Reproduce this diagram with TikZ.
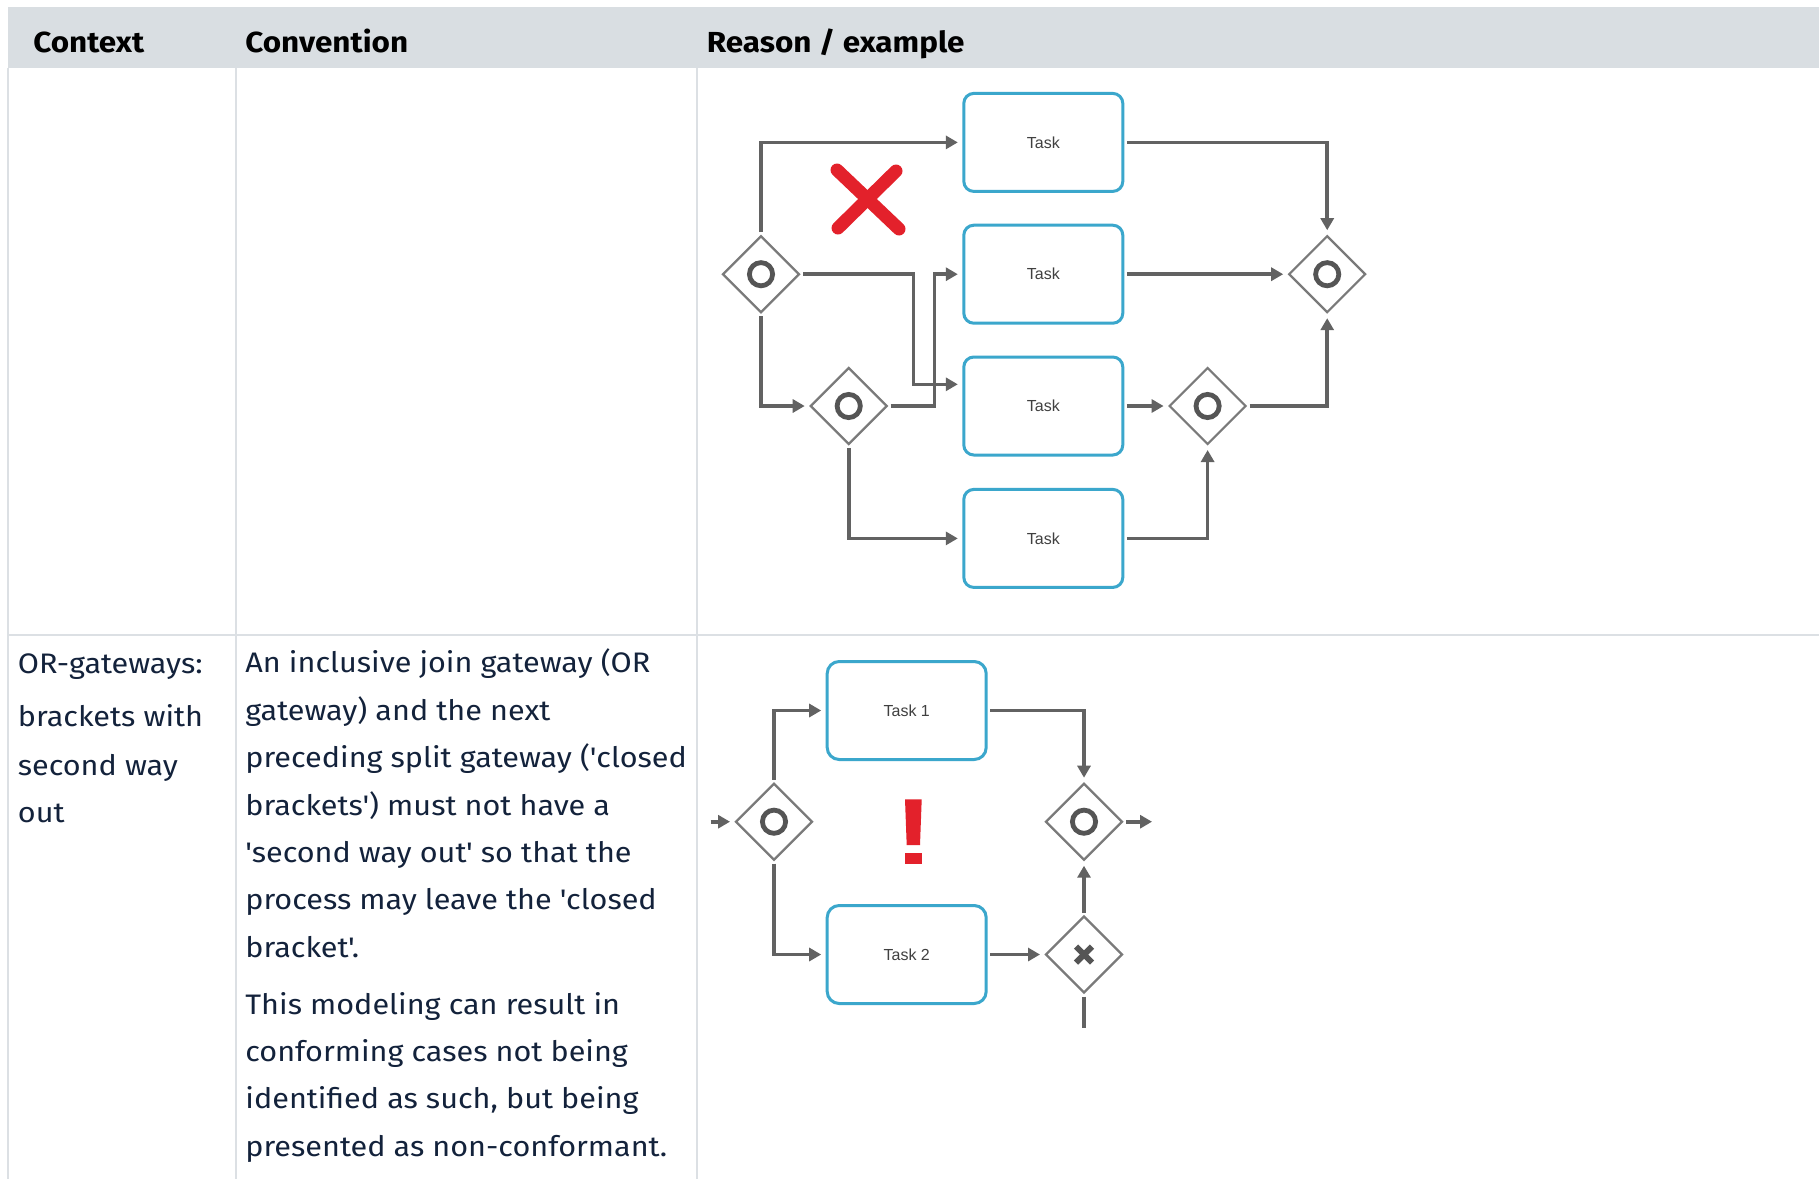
\documentclass[tikz,border=0pt]{standalone}
\usepackage{fontspec}
\setmainfont{Fira Sans}[FakeStretch=1.085, Ligatures=TeXOff]
\newfontfamily\taskfont{Liberation Sans}
\usetikzlibrary{arrows.meta,shapes.geometric,calc}

\definecolor{headfill}{HTML}{D9DEE2}
\definecolor{rulegray}{HTML}{DCE0E4}
\definecolor{bodytext}{HTML}{13223B}
\definecolor{flowgray}{HTML}{626262}
\definecolor{gategray}{HTML}{7A7A7A}
\definecolor{ringgray}{HTML}{555555}
\definecolor{taskblue}{HTML}{3BA7CC}
\definecolor{alertred}{HTML}{E3212B}

\tikzset{
  tablerule/.style={draw=rulegray, line width=0.8pt},
  headtext/.style={anchor=base west, inner sep=0pt, font=\fontsize{14.5}{17}\selectfont\bfseries, text=black},
  bodyline/.style={anchor=base west, inner sep=0pt, font=\fontsize{14.1}{17}\selectfont, text=bodytext},
  taskbox/.style={draw=taskblue, line width=1.5pt, rounded corners=5pt,
    minimum width=79.5pt, minimum height=49pt, inner sep=0pt, outer sep=0pt,
    font=\taskfont\fontsize{8}{9.5}\selectfont, text=black!75},
  gateway/.style={draw=gategray, line width=1.1pt, diamond, aspect=1,
    minimum width=38pt, minimum height=38pt, inner sep=0pt, outer sep=0pt},
  ring/.style={draw=ringgray, line width=2.4pt},
  xmark/.style={draw=ringgray, line width=3pt},
  flow/.style={draw=flowgray, line width=1.8pt, -{Triangle[length=6pt,width=6.5pt]},
    shorten <=2pt, shorten >=3pt},
  plainflow/.style={draw=flowgray, line width=1.8pt, shorten <=2pt},
  redmark/.style={draw=alertred, line width=6.5pt, line cap=round},
}

\begin{document}
\begin{tikzpicture}[x=0.5pt, y=-0.5pt]
  % page area
  \useasboundingbox (0,0) rectangle (1819,1179);
  \fill[white] (0,0) rectangle (1819,1179);

  % ---------- table frame ----------
  \fill[headfill] (8,7) rectangle (1819,68);
  \draw[tablerule] (8,68) -- (8,1179);
  \draw[tablerule] (236,68) -- (236,1179);
  \draw[tablerule] (697,68) -- (697,1179);
  \draw[tablerule] (8,635) -- (1819,635);

  % ---------- header ----------
  \node[headtext] (hcontext) at (33,52.7) {Context};
  \node[headtext] (hconvention) at (245,52.7) {Convention};
  \node[headtext] (hreason) at (706.5,52.7) {Reason / example};

  % ---------- context column ----------
  \node[bodyline] (c1) at (17.5,673) {OR-gateways:};
  \node[bodyline] (c2) at (17.5,726) {brackets with};
  \node[bodyline] (c3) at (17.5,775) {second way};
  \node[bodyline] (c4) at (17.5,822) {out};

  % ---------- convention column ----------
  \node[bodyline] (v1) at (245,672.8) {An inclusive join gateway (OR};
  \node[bodyline] (v2) at (245,720.2) {gateway) and the next};
  \node[bodyline] (v3) at (245,767.6) {preceding split gateway ('closed};
  \node[bodyline] (v4) at (245,815.0) {brackets') must not have a};
  \node[bodyline] (v5) at (245,862.4) {'second way out' so that the};
  \node[bodyline] (v6) at (245,909.8) {process may leave the 'closed};
  \node[bodyline] (v7) at (245,957.2) {bracket'.};
  \node[bodyline] (w1) at (245,1014.0) {This modeling can result in};
  \node[bodyline] (w2) at (245,1061.4) {conforming cases not being};
  \node[bodyline] (w3) at (245,1108.8) {identified as such, but being};
  \node[bodyline] (w4) at (245,1156.2) {presented as non-conformant.};

  % ---------- example 1: nested OR brackets ----------
  \node[taskbox] (t1) at (1043.3,142.4) {Task};
  \node[taskbox] (t2) at (1043.3,274.2) {Task};
  \node[taskbox] (t3) at (1043.3,406.0) {Task};
  \node[taskbox] (t4) at (1043.3,538.4) {Task};

  \node[gateway] (g1) at (761,274.2) {};
  \node[gateway] (g2) at (848.7,406.0) {};
  \node[gateway] (g3) at (1207.6,406.0) {};
  \node[gateway] (g4) at (1327.2,274.2) {};
  \foreach \g in {g1,g2,g3,g4} \draw[ring] (\g) circle[radius=5.8pt];

  \coordinate (b1) at (913.4,384.3);
  \coordinate (b2) at (934.4,274.2);

  \draw[flow] (g1.north) |- (t1.west);
  \draw[flow] (g1.east) -| (b1) -- (b1 -| t3.west);
  \draw[flow] (g1.south) |- (g2.west);
  \draw[flow] (g2.east) -| (b2) -- (t2.west);
  \draw[flow] (g2.south) |- (t4.west);
  \draw[flow] (t1.east) -| (g4.north);
  \draw[flow] (t2.east) -- (g4.west);
  \draw[flow] (t3.east) -- (g3.west);
  \draw[flow] (g3.east) -| (g4.south);
  \draw[flow] (t4.east) -| (g3.south);

  % red cross
  \draw[redmark] (837,170) -- (899,229);
  \draw[redmark] (896,171) -- (838,228);

  % ---------- example 2: second way out ----------
  \node[taskbox, rounded corners=6pt] (t5) at (906.7,710.5) {Task 1};
  \node[taskbox, rounded corners=6pt] (t6) at (906.7,954.5) {Task 2};

  \node[gateway] (g5) at (774,821.7) {};
  \node[gateway] (g6) at (1084,821.7) {};
  \node[gateway] (g7) at (1084,954.5) {};
  \draw[ring] (g5) circle[radius=5.8pt];
  \draw[ring] (g6) circle[radius=5.8pt];
  \draw[xmark] ($(g7)+(-8,-8)$) -- ($(g7)+(8,8)$);
  \draw[xmark] ($(g7)+(8,-8)$) -- ($(g7)+(-8,8)$);

  \coordinate (in5) at (706.7,821.7);
  \coordinate (out6) at (1158,821.7);
  \coordinate (end7) at (1084,1028.3);

  \draw[flow] (in5) -- (g5.west);
  \draw[flow] (g5.north) |- (t5.west);
  \draw[flow] (g5.south) |- (t6.west);
  \draw[flow] (t5.east) -| (g6.north);
  \draw[flow] (t6.east) -- (g7.west);
  \draw[flow] (g7.north) -- (g6.south);
  \draw[flow] (g6.east) -- (out6);
  \draw[plainflow] (g7.south) -- (end7);

  % red exclamation mark
  \fill[alertred] (905,799.3) -- (921.7,799.3) -- (920,845) -- (906.7,845) -- cycle;
  \fill[alertred] (904.8,853.3) rectangle (921.8,864);
\end{tikzpicture}
\end{document}
